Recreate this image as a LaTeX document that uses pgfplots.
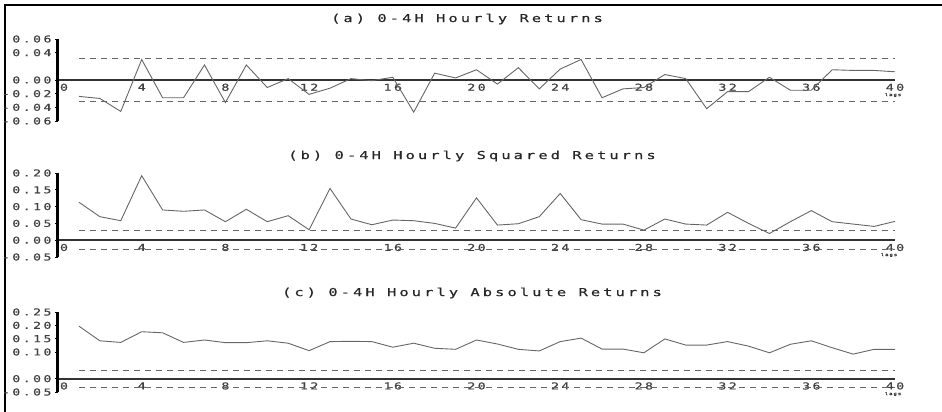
\documentclass[border=0pt]{standalone}
\usepackage{fontspec}
\usepackage{pgfplots}
\pgfplotsset{compat=1.18}
\newfontfamily\plotfont[FakeStretch=1.4,LetterSpace=25,FakeBold=0.6]{DejaVu Sans Mono}
\newfontfamily\titlefont[FakeStretch=1.4,LetterSpace=28,FakeBold=0.6]{DejaVu Sans Mono}

\pgfplotstableread{
lag a b c
1 -0.024 0.113 0.197
2 -0.027 0.070 0.142
3 -0.046 0.058 0.136
4 0.030 0.192 0.176
5 -0.026 0.090 0.172
6 -0.026 0.086 0.136
7 0.022 0.090 0.145
8 -0.033 0.055 0.135
9 0.022 0.092 0.135
10 -0.011 0.055 0.142
11 0.002 0.073 0.133
12 -0.021 0.031 0.105
13 -0.012 0.154 0.139
14 0.002 0.063 0.140
15 -0.001 0.046 0.139
16 0.004 0.060 0.118
17 -0.047 0.058 0.133
18 0.010 0.050 0.114
19 0.003 0.036 0.110
20 0.015 0.126 0.145
21 -0.006 0.045 0.130
22 0.018 0.049 0.110
23 -0.013 0.070 0.104
24 0.016 0.139 0.139
25 0.030 0.061 0.152
26 -0.026 0.048 0.111
27 -0.013 0.048 0.111
28 -0.011 0.030 0.097
29 0.008 0.063 0.149
30 0.002 0.048 0.126
31 -0.042 0.045 0.126
32 -0.017 0.083 0.139
33 -0.017 0.050 0.122
34 0.004 0.020 0.097
35 -0.015 0.055 0.129
36 -0.015 0.088 0.142
37 0.015 0.055 0.116
38 0.014 0.048 0.092
39 0.014 0.041 0.110
40 0.012 0.056 0.110
}\acf

\pgfplotsset{rats/.style={
  scale only axis, width=837pt, anchor=south west,
  xmin=0, xmax=40,
  axis x line=middle, axis y line=left,
  hide obscured x ticks=false, hide obscured y ticks=false,
  scaled y ticks=false, scaled x ticks=false,
  axis line style={-},
  x axis line style={line width=1.8pt, color=black!80},
  y axis line style={line width=3pt, color=black},
  xtick={0,4,...,40},
  xticklabels={\hspace{12pt}0,4,8,12,16,20,24,28,32,36,40},
  x tick style={draw=none},
  y tick style={black, line width=0.6pt},
  ytick align=outside, major tick length=3pt,
  tick label style={font=\plotfont\fontsize{9.5}{10}\selectfont, text=black!75},
  xticklabel style={anchor=north, inner sep=2pt},
  clip=false,
}}
\tikzset{dataline/.style={color=black!60, line width=0.9pt, mark=none},
  bandline/.style={color=black!60, line width=0.9pt, dash pattern=on 6pt off 5pt, mark=none}}

\begin{document}
\begin{tikzpicture}
\useasboundingbox (0,0) rectangle (942pt,412pt);
\draw[line width=1.2pt] (942pt,407pt) -- (5pt,407pt) -- (5pt,0pt);

% (a)
\begin{axis}[rats, at={(58pt,291pt)}, height=82pt,
  ymin=-0.06, ymax=0.06,
  ytick={-0.06,-0.04,-0.02,0,0.04,0.06},
  yticklabels={-0.06,-0.04,-0.02,0.00,0.04,0.06}]
\addplot[bandline] coordinates {(1,0.031) (40,0.031)};
\addplot[bandline] coordinates {(1,-0.031) (40,-0.031)};
\addplot[dataline] table[x=lag,y=a] {\acf};
\end{axis}

% (b)
\begin{axis}[rats, at={(58pt,155pt)}, height=84pt,
  ymin=-0.05, ymax=0.20,
  ytick={-0.05,0,0.05,0.10,0.15,0.20},
  yticklabels={-0.05,0.00,0.05,0.10,0.15,0.20}]
\addplot[bandline] coordinates {(1,0.028) (40,0.028)};
\addplot[bandline] coordinates {(1,-0.028) (40,-0.028)};
\addplot[dataline] table[x=lag,y=b] {\acf};
\end{axis}

% (c)
\begin{axis}[rats, at={(58pt,20pt)}, height=80pt,
  ymin=-0.05, ymax=0.25,
  ytick={-0.05,0,0.10,0.15,0.20,0.25},
  yticklabels={-0.05,0.00,0.10,0.15,0.20,0.25}]
\addplot[bandline] coordinates {(1,0.032) (40,0.032)};
\addplot[bandline] coordinates {(1,-0.032) (40,-0.032)};
\addplot[dataline] table[x=lag,y=c] {\acf};
\end{axis}

\begin{scope}[every node/.style={font=\titlefont\fontsize{11}{12}\selectfont, text=black!85}]
\node at (467pt,393pt) {(a) 0-4H Hourly Returns};
\node at (472pt,256pt) {(b) 0-4H Hourly Squared Returns};
\node at (472pt,119pt) {(c) 0-4H Hourly Absolute Returns};
\end{scope}
\begin{scope}[every node/.style={font=\plotfont\fontsize{4}{4}\selectfont, text=black!80}]
\node at (893pt,317pt) {lags};
\node at (889pt,157pt) {lags};
\node at (893pt,18pt) {lags};
\end{scope}
\end{tikzpicture}
\end{document}
